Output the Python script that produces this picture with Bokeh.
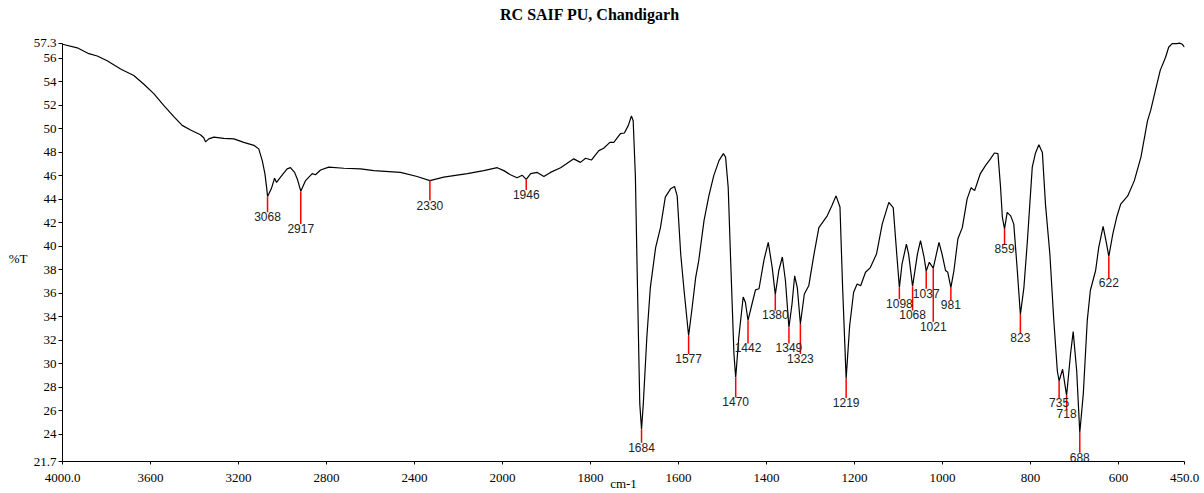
import numpy as np
from bokeh.plotting import figure
from bokeh.models import Range1d, FixedTicker, ColumnDataSource, LinearAxis
from bokeh.embed import file_html
from bokeh.resources import INLINE
from bokeh.core.properties import value

# ---------------- data ----------------
wavenumber = [
    4000, 3933, 3880, 3842, 3797, 3736, 3676, 3630, 3585, 3540, 3494, 3456, 3418, 3373, 3358, 3350,
    3335, 3312, 3267, 3221, 3176, 3130, 3108, 3092, 3080, 3072, 3068, 3051, 3036, 3027, 3009, 2979,
    2964, 2945, 2932, 2917, 2895, 2865, 2850, 2827, 2790, 2721, 2645, 2585, 2464, 2388, 2330, 2267,
    2160, 2085, 2024, 1997, 1982, 1967, 1955, 1946, 1936, 1921, 1906, 1891, 1868, 1838, 1823, 1811,
    1798, 1781, 1770, 1756, 1747, 1732, 1723, 1714, 1707, 1703, 1698, 1694, 1688, 1684, 1680, 1672,
    1664, 1652, 1641, 1630, 1618, 1609, 1603, 1595, 1588, 1577, 1569, 1561, 1554, 1542, 1531, 1520,
    1508, 1498, 1493, 1487, 1482, 1474, 1470, 1463, 1453, 1448, 1442, 1432, 1425, 1417, 1406, 1396,
    1387, 1380, 1372, 1364, 1357, 1349, 1342, 1336, 1330, 1323, 1314, 1304, 1292, 1281, 1262, 1251,
    1242, 1233, 1227, 1219, 1211, 1202, 1194, 1186, 1175, 1164, 1150, 1137, 1122, 1112, 1104, 1098,
    1092, 1082, 1077, 1068, 1057, 1050, 1042, 1037, 1030, 1021, 1008, 1001, 993, 988, 981, 974,
    965, 955, 944, 935, 927, 914, 902, 891, 882, 874, 868, 864, 859, 853, 845, 838,
    830, 823, 815, 807, 796, 789, 781, 773, 766, 756, 747, 739, 735, 727, 718, 709,
    703, 695, 688, 680, 671, 664, 652, 645, 635, 627, 622, 613, 604, 595, 579, 564,
    549, 534, 527, 516, 505, 493, 486, 478, 467, 461, 455, 450,
]
transmittance = [
    57.2, 56.9, 56.4, 56.2, 55.8, 55.1, 54.55, 53.8, 53.0, 52.0, 51.05, 50.3, 49.9, 49.5, 49.25, 48.9,
    49.15, 49.3, 49.2, 49.15, 48.85, 48.6, 48.3, 47.3, 46.2, 45.0, 44.25, 44.9, 45.8, 45.45, 45.9, 46.6,
    46.7, 46.3, 45.7, 44.7, 45.6, 46.2, 46.1, 46.5, 46.75, 46.65, 46.6, 46.45, 46.3, 45.95, 45.6, 45.9,
    46.2, 46.45, 46.7, 46.45, 46.1, 45.85, 46.05, 45.7, 46.2, 46.3, 45.95, 46.3, 46.7, 47.45, 47.15, 47.5,
    47.35, 48.15, 48.35, 48.85, 48.85, 49.6, 49.65, 50.3, 51.1, 50.7, 46.0, 38.0, 26.6, 24.45, 26.6, 32.25,
    36.5, 39.9, 41.6, 44.2, 44.9, 45.1, 44.3, 39.35, 36.5, 32.4, 34.8, 37.35, 38.8, 42.2, 44.3, 46.0,
    47.3, 47.9, 47.6, 45.0, 39.35, 30.85, 28.85, 32.25, 35.7, 35.25, 33.7, 35.25, 36.3, 36.4, 38.8, 40.35,
    38.2, 35.9, 37.95, 39.1, 37.1, 33.1, 35.1, 37.5, 36.5, 33.4, 35.95, 36.65, 39.35, 41.6, 42.6, 43.5,
    44.3, 43.35, 36.5, 28.75, 33.25, 36.1, 36.8, 36.65, 37.8, 38.2, 39.35, 41.9, 43.75, 43.3, 39.35, 36.5,
    38.5, 40.2, 39.35, 36.6, 39.35, 40.5, 39.1, 37.9, 38.65, 38.15, 40.35, 39.35, 37.95, 37.8, 36.5, 37.95,
    40.65, 41.6, 44.05, 45.0, 44.75, 46.2, 46.9, 47.45, 47.95, 47.9, 45.0, 42.5, 41.5, 42.9, 42.6, 41.9,
    37.95, 34.2, 36.5, 40.5, 46.75, 47.9, 48.65, 48.0, 43.6, 39.35, 33.7, 29.4, 28.55, 29.55, 27.3, 30.85,
    32.75, 29.4, 24.15, 27.45, 33.7, 36.25, 37.95, 39.9, 41.7, 40.2, 39.15, 41.05, 42.5, 43.6, 44.3, 45.6,
    47.6, 50.7, 51.55, 53.3, 55.0, 56.1, 56.95, 57.25, 57.25, 57.3, 57.2, 56.95,
]

peak_wn = [3068, 2917, 2330, 1946, 1684, 1577, 1470, 1442, 1380, 1349, 1323, 1219,
           1098, 1068, 1037, 1021, 981, 859, 823, 735, 718, 688, 622]
# %T level where each red marker ends and its label starts
label_T = [42.9, 41.9, 43.9, 44.8, 23.3, 30.85, 27.15, 31.75, 34.55, 31.75, 30.85, 27.1,
           35.5, 34.55, 36.4, 33.6, 35.45, 40.2, 32.6, 27.1, 26.15, 22.45, 37.3]

x_tick_wn = [4000, 3600, 3200, 2800, 2400, 2000, 1800, 1600, 1400, 1200, 1000, 800, 600, 450]
x_tick_labels = ["4000.0", "3600", "3200", "2800", "2400", "2000", "1800", "1600",
                 "1400", "1200", "1000", "800", "600", "450.0"]
y_ticks = [21.7, 24, 26, 28, 30, 32, 34, 36, 38, 40, 42, 44, 46, 48, 50, 52, 54, 56, 57.3]
y_tick_labels = ["21.7", "24", "26", "28", "30", "32", "34", "36", "38", "40", "42", "44",
                 "46", "48", "50", "52", "54", "56", "57.3"]

title_text = "RC SAIF PU, Chandigarh"
x_title = "cm-1"
y_title = "%T"

y_min, y_max = 21.7, 57.3
y_title_at = 38.96      # %T level beside which the y-axis title sits


# split (two-scale) wavenumber axis: 4000-2000 compressed 2x, 2000-450 full scale
def split_axis(wn):
    wn = np.asarray(wn, dtype=float)
    return np.where(wn >= 2000, (4000.0 - wn) / 2.0, 1000.0 + (2000.0 - wn))


lookup = dict(zip(wavenumber, transmittance))
peak_T = [lookup[w] for w in peak_wn]

spec = ColumnDataSource(dict(x=split_axis(wavenumber), y=transmittance))
peaks = ColumnDataSource(dict(
    x=split_axis(peak_wn), y0=peak_T, y1=label_T, text=[str(w) for w in peak_wn]))

x_lo, x_hi = float(split_axis([4000])[0]), float(split_axis([450])[0])

# layout: frame spans the full height above the x axis; the plotted %T scale
# (21.7 .. 57.3) takes the lower 419 px, the strip above holds the title.
H, W = 493, 1204
bottom_border, top_gap = 31, 42.7
px_per_unit = (H - bottom_border - top_gap) / (y_max - y_min)
y_top = y_max + top_gap / px_per_unit
x_center = (x_lo + x_hi) * 0.47          # title sits a little left of centre
y_title_pos = y_max + (top_gap - 14) / px_per_unit

p = figure(width=W, height=H, output_backend="svg", toolbar_location=None,
           x_range=Range1d(x_lo, x_hi), y_range=Range1d(y_min, y_top),
           min_border_left=62, min_border_right=20, min_border_top=0,
           min_border_bottom=bottom_border)
p.title_location = None
p.outline_line_color = None
p.background_fill_color = "white"
p.border_fill_color = "white"
p.xgrid.visible = False
p.ygrid.visible = False

p.line("x", "y", source=spec, line_color="black", line_width=1.2)
p.segment(x0="x", y0="y0", x1="x", y1="y1", source=peaks, line_color="red", line_width=1.5)
p.text(x="x", y="y1", text="text", source=peaks, text_align="center", text_baseline="top",
       text_font=value("Liberation Sans"), text_font_size="12px", text_color="#222222")

# title
p.text(x=[x_center], y=[y_title_pos], text=[title_text], text_align="center",
       text_baseline="middle", text_font=value("Liberation Serif"), text_font_style="bold",
       text_font_size="16px", text_color="black")

# axes
xt = [int(round(v)) for v in split_axis(x_tick_wn)]
p.xaxis.ticker = FixedTicker(ticks=xt, minor_ticks=[])
p.xaxis.major_label_overrides = {k: lab for k, lab in zip(xt, x_tick_labels)}
yk = [int(v) if float(v).is_integer() else float(v) for v in y_ticks]
p.yaxis.ticker = FixedTicker(ticks=yk, minor_ticks=[])
p.yaxis.major_label_overrides = {k: lab for k, lab in zip(yk, y_tick_labels)}
p.yaxis.bounds = (y_min, y_max)

for ax in (p.xaxis, p.yaxis):
    ax.axis_line_color = "black"
    ax.axis_line_width = 1
    ax.major_tick_line_color = "black"
    ax.major_tick_out = 4
    ax.major_tick_in = 0
    ax.minor_tick_line_color = None
    ax.major_label_text_font = "Liberation Serif"
    ax.major_label_text_font_size = "13px"
    ax.major_label_text_color = "black"
    ax.axis_label_text_font = "Liberation Serif"
    ax.axis_label_text_font_style = "normal"
    ax.axis_label_text_font_size = "13px"
    ax.axis_label_text_color = "black"

p.xaxis.axis_label = x_title
p.xaxis.major_tick_out = 3
p.xaxis.major_label_standoff = 9
p.xaxis.axis_label_standoff = -9

p.yaxis.major_label_standoff = 2

# y-axis title "%T": horizontal, beside the 38-40 region, via an outer label-only axis
title_axis = LinearAxis(ticker=FixedTicker(ticks=[y_title_at], minor_ticks=[]),
                        major_label_overrides={y_title_at: y_title},
                        axis_line_color=None, major_tick_line_color=None,
                        major_tick_out=0, major_tick_in=0,
                        minor_tick_line_color=None, major_label_standoff=3,
                        major_label_text_font="Liberation Serif",
                        major_label_text_font_size="13px", major_label_text_color="black")
p.add_layout(title_axis, "left")

open("out.html", "w").write(file_html(p, INLINE))
